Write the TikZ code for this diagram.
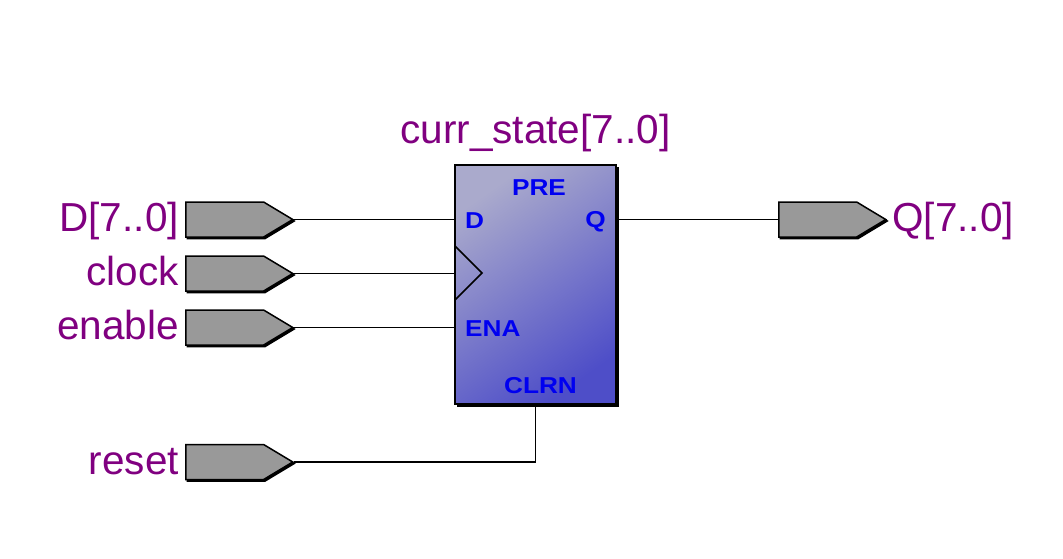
\documentclass[tikz,border=0pt]{standalone}
\usepackage{fontspec}
\setmainfont{Liberation Sans}
\usetikzlibrary{positioning,shapes.symbols,shadows}
\definecolor{labelpurple}{HTML}{800080}
\definecolor{pingray}{HTML}{999999}
\definecolor{portblue}{HTML}{0000F0}
\tikzset{
	x=1pt,y=-1pt, % coordinates are the pixels of the picture
	pin/.style={signal, signal to=east, signal pointer angle=62, draw=black, line width=1.5pt, fill=pingray, minimum width=107pt, minimum height=35pt, inner sep=0pt, copy shadow={shadow xshift=1.5pt, shadow yshift=-1.5pt, fill=black, draw=black}},
	signame/.style={text=labelpurple, font=\fontsize{40.5}{40.5}\selectfont, inner sep=0pt, text height=31pt, text depth=6.5pt},
	port/.style={text=portblue, font=\fontsize{23}{23}\selectfont\bfseries, xscale=1.14, inner sep=0pt},
	wire/.style={line width=1.6pt},
}

\begin{document}
\begin{tikzpicture}
		\useasboundingbox (0,0) rectangle (1063,559);
		\fill[black] (457,167) rectangle (618.5,406.5); % shadow of the register
		\node[draw=black, line width=1.5pt, minimum width=161pt, minimum height=239pt, inner sep=0pt, top color={rgb,255:red,170;green,170;blue,204}, bottom color={rgb,255:red,78;green,78;blue,200}, shading angle=35] (reg) at (535.5,284.5) {};
		\node[signame, above=14pt of reg] (title) {curr\_state[7..0]};

		\node[pin,anchor=west] (dpin) at (185,219.5) {};
		\node[pin,below=17.5pt of dpin] (clkpin) {};
		\node[pin,below=17.5pt of clkpin] (enapin) {};
		\node[pin,below=98pt of enapin] (rstpin) {};
		\node[pin,anchor=west] (qpin) at (778,219.5) {};

		\node[signame,left=6pt of dpin] (dname) {D[7..0]};
		\node[signame,left=6pt of clkpin] (clkname) {clock};
		\node[signame,left=6pt of enapin] (enaname) {enable};
		\node[signame,left=6pt of rstpin] (rstname) {reset};
		\node[signame,right=5pt of qpin] (qname) {Q[7..0]};

		\node[port] (pre) at (539,188) {PRE};
		\node[port,anchor=west] (dport) at (465,221) {D};
		\node[port,anchor=east] (qport) at (606,222) {Q};
		\node[port,anchor=west] (enaport) at (465,329) {ENA};
		\node[port] (clrn) at (540.5,386) {CLRN};

		\draw[wire] (dpin.east) -- (dpin.east -| reg.west);
		\draw[wire] (clkpin.east) -- (clkpin.east -| reg.west);
		\draw[wire] (enapin.east) -- (enapin.east -| reg.west);
		\draw[wire] (rstpin.east) -| (reg.south);
		\draw[wire] (reg.east |- qpin.west) -- (qpin.west);

		\coordinate (clktop) at (455,246);
		\coordinate (clktip) at (482,273);
		\coordinate (clkbot) at (455,300);
		\draw[wire] (clktop) -- (clktip) -- (clkbot);
\end{tikzpicture}
\end{document}
